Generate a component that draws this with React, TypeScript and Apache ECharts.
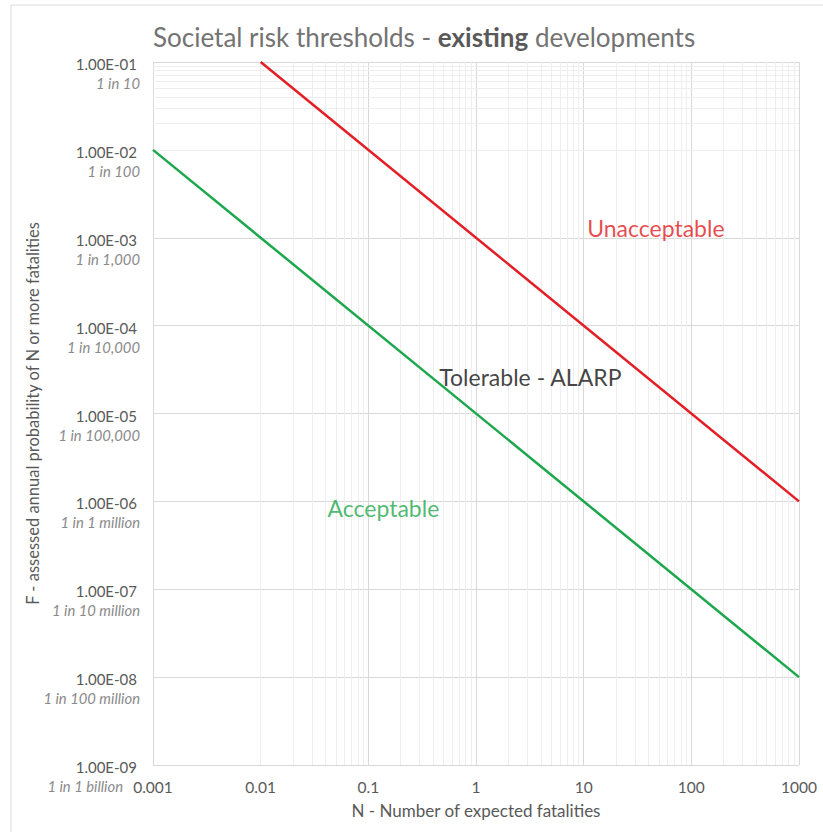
import React, { useEffect, useRef } from "react";
import * as echarts from "echarts";

const FONT = "Lato";

const titleParts = ["Societal risk thresholds - ", "existing", " developments"];
const xAxisTitle = "N - Number of expected fatalities";
const yAxisTitle = "F - assessed annual probability of N or more fatalities";

const xTickLabels = ["0.001", "0.01", "0.1", "1", "10", "100", "1000"]; // exponents -3..3
const yTickLabels = ["1.00E-09", "1.00E-08", "1.00E-07", "1.00E-06", "1.00E-05", "1.00E-04", "1.00E-03", "1.00E-02", "1.00E-01"]; // exponents -9..-1
const yTickNotes = ["1 in 1 billion", "1 in 100 million", "1 in 10 million", "1 in 1 million", "1 in 100,000", "1 in 10,000", "1 in 1,000", "1 in 100", "1 in 10"];

// Threshold lines (N, F)
const unacceptableN = [0.01, 1000];
const unacceptableF = [0.1, 0.000001];
const acceptableN = [0.001, 1000];
const acceptableF = [0.01, 0.00000001];

// Region labels
const regionNames = ["Unacceptable", "Tolerable - ALARP", "Acceptable"];
const regionN = [46.8, 3.2, 0.138];
const regionF = [0.00129, 0.000026, 0.00000084];
const regionColors = ["#e11b22", "#111111", "#1fa84f"];

const minorMultipliers = [2, 3, 4, 5, 6, 7, 8, 9];
const xDecades = [-3, -2, -1, 0, 1, 2];
const yDecades = [-9, -8, -7, -6, -5, -4, -3, -2];

export default function App() {
  const ref = useRef<HTMLDivElement>(null);
  useEffect(() => {
    const chart = echarts.init(ref.current!, null, { renderer: "svg" });
    const minorX: any[] = [];
    xDecades.forEach((d) => minorMultipliers.forEach((m) => minorX.push({ xAxis: m * Math.pow(10, d) })));
    const minorY: any[] = [];
    yDecades.forEach((d) => minorMultipliers.forEach((m) => minorY.push({ yAxis: m * Math.pow(10, d) })));

    chart.setOption({
      animation: false,
      backgroundColor: "#ffffff",
      title: {
        text: `{n|${titleParts[0]}}{b|${titleParts[1]}}{n|${titleParts[2]}}`,
        left: 148,
        top: 19,
        textStyle: {
          rich: {
            n: { fontFamily: FONT, fontSize: 26, color: "#737373", fontWeight: "normal" },
            b: { fontFamily: FONT, fontSize: 26, color: "#595959", fontWeight: "bold" },
          },
        },
      },
      graphic: [
        {
          type: "rect",
          z: -10,
          shape: { x: 11, y: 5, width: 900, height: 900 },
          style: { fill: "none", stroke: "#dadada", lineWidth: 1 },
          silent: true,
        },
      ],
      grid: { left: 153, right: 24, top: 62, bottom: 67, containLabel: false },
      xAxis: {
        type: "log",
        logBase: 10,
        min: 0.001,
        max: 1000,
        interval: 1,
        name: xAxisTitle,
        nameLocation: "middle",
        nameGap: 37,
        nameMoveOverlap: false,
        nameTextStyle: { fontFamily: FONT, fontSize: 17, color: "#595959" },
        axisLine: { show: false },
        axisTick: { show: false },
        axisLabel: {
          fontFamily: FONT,
          fontSize: 15.5,
          color: "#595959",
          margin: 14,
          formatter: (v: number) => xTickLabels[Math.round(Math.log10(v)) + 3],
        },
        splitLine: { show: true, lineStyle: { color: "#d9d9d9", width: 1 } },
      },
      yAxis: {
        type: "log",
        logBase: 10,
        min: 0.000000001,
        max: 0.1,
        interval: 1,
        name: yAxisTitle,
        nameLocation: "middle",
        nameGap: 112,
        nameMoveOverlap: false,
        nameTextStyle: { fontFamily: FONT, fontSize: 16.5, color: "#595959" },
        axisLine: { show: false },
        axisTick: { show: false },
        axisLabel: {
          margin: 13,
          formatter: (v: number) => {
            const i = Math.round(Math.log10(v)) + 9;
            const note = i === 0 ? `{c|${yTickNotes[i]}}` : `{b|${yTickNotes[i]}}`;
            return `{e| }\n{a|${yTickLabels[i]}}\n${note}`;
          },
          rich: {
            e: { fontFamily: FONT, fontSize: 14, lineHeight: 22 },
            a: { fontFamily: FONT, fontSize: 15, color: "#595959", lineHeight: 20, align: "right", padding: [0, 3, 0, 0] },
            b: { fontFamily: FONT, fontSize: 14.8, color: "#8a8a8a", fontStyle: "italic", lineHeight: 18, align: "right" },
            c: { fontFamily: FONT, fontSize: 14.8, color: "#8a8a8a", fontStyle: "italic", lineHeight: 18, align: "right", padding: [0, 17, 0, 0] },
          },
        },
        splitLine: { show: true, lineStyle: { color: "#d9d9d9", width: 1 } },
      },
      series: [
        {
          type: "line",
          name: "minor grid",
          data: [],
          silent: true,
          markLine: {
            silent: true,
            symbol: "none",
            z: 1,
            animation: false,
            label: { show: false },
            lineStyle: { color: "#eeeeee", width: 1, type: "solid" },
            emphasis: { disabled: true },
            data: [...minorX, ...minorY],
          },
        },
        {
          type: "line",
          name: "Unacceptable threshold",
          data: unacceptableN.map((n, i) => [n, unacceptableF[i]]),
          showSymbol: false,
          symbol: "none",
          lineStyle: { color: "#e41e25", width: 2.5 },
          z: 5,
        },
        {
          type: "line",
          name: "Acceptable threshold",
          data: acceptableN.map((n, i) => [n, acceptableF[i]]),
          showSymbol: false,
          symbol: "none",
          lineStyle: { color: "#1ca74c", width: 2.5 },
          z: 5,
        },
        {
          type: "scatter",
          name: "regions",
          symbolSize: 0,
          silent: true,
          z: 6,
          data: regionNames.map((name, i) => ({
            value: [regionN[i], regionF[i]],
            label: {
              show: true,
              position: "inside",
              formatter: name,
              fontFamily: FONT,
              fontSize: 23,
              color: regionColors[i],
            },
          })),
        },
      ],
    });
    return () => chart.dispose();
  }, []);
  return <div ref={ref} style={{ position: "absolute", left: 0, top: 0, width: 823, height: 832 }} />;
}
